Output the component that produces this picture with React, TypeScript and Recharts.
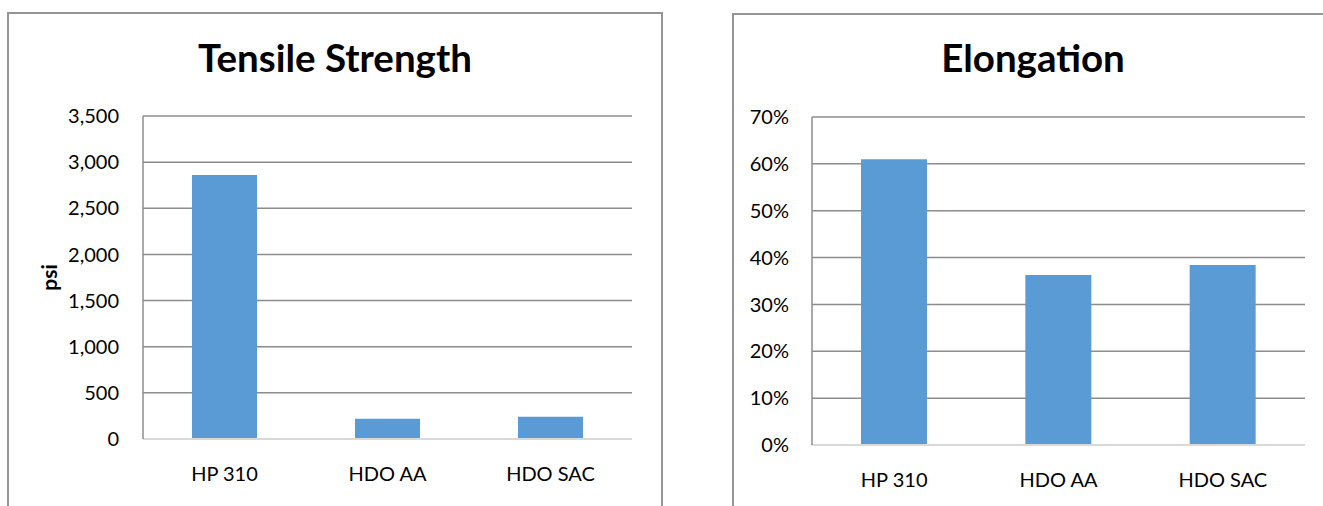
import React from "react";
import {
  BarChart,
  Bar,
  XAxis,
  YAxis,
  CartesianGrid,
  Label,
} from "recharts";

const categories = ["HP 310", "HDO AA", "HDO SAC"];
const tensilePsi = [2860, 220, 240];
const elongation = [0.61, 0.363, 0.384];
const tensileTicks = [0, 500, 1000, 1500, 2000, 2500, 3000, 3500];
const elongationTicks = [0, 0.1, 0.2, 0.3, 0.4, 0.5, 0.6, 0.7];

const tensileData = categories.map((name, i) => ({ name, value: tensilePsi[i] }));
const elongationData = categories.map((name, i) => ({ name, value: elongation[i] }));

const FONT = "Lato, 'Open Sans', sans-serif";
const BAR = "#5b9bd5";
const GRID = "#8c8c8c";
const AXIS0 = "#d9d9d9";

const tickStyle = { fill: "#000", fontSize: 20, fontFamily: FONT };

const boxStyle = (left: number, top: number, width: number): React.CSSProperties => ({
  position: "absolute",
  left,
  top,
  width,
  height: 520,
  border: "2px solid #959595",
  boxSizing: "border-box",
});

const titleStyle = (left: number, width: number): React.CSSProperties => ({
  position: "absolute",
  left,
  top: 38,
  width,
  textAlign: "center",
  fontFamily: FONT,
  fontWeight: 700,
  fontSize: 38.5,
  lineHeight: "38px",
  color: "#000",
});

const PsiLabel = (props: any) => {
  const vb = props.viewBox || {};
  const x = 41;
  const y = vb.y + vb.height / 2;
  return (
    <text
      x={x}
      y={y}
      transform={`rotate(-90 ${x} ${y})`}
      textAnchor="middle"
      dominantBaseline="central"
      fontFamily={FONT}
      fontWeight={700}
      fontSize={21}
      fill="#000"
    >
      psi
    </text>
  );
};

export default function App() {
  return (
    <div
      style={{
        position: "absolute",
        left: 0,
        top: 0,
        width: 1323,
        height: 506,
        overflow: "hidden",
        background: "#fff",
      }}
    >
      <div style={boxStyle(7, 12, 656)} />
      <div style={titleStyle(7, 656)}>Tensile Strength</div>
      <div style={{ position: "absolute", left: 7, top: 12 }}>
        <BarChart
          width={656}
          height={494}
          data={tensileData}
          margin={{ top: 104, right: 31, left: 0, bottom: 27 }}
          barSize={65}
        >
          <CartesianGrid horizontal vertical={false} stroke={GRID} strokeWidth={1.5} />
          <XAxis
            dataKey="name"
            height={40}
            axisLine={{ stroke: AXIS0, strokeWidth: 2 }}
            tickLine={false}
            tickMargin={22}
            tick={tickStyle}
          />
          <YAxis
            width={136}
            domain={[0, 3500]}
            ticks={tensileTicks}
            interval={0}
            axisLine={{ stroke: GRID, strokeWidth: 1.5 }}
            tickLine={false}
            tickMargin={18}
            tick={tickStyle}
            tickFormatter={(v: number) => v.toLocaleString("en-US")}
          >
            <Label content={PsiLabel} />
          </YAxis>
          <Bar dataKey="value" fill={BAR} isAnimationActive={false} />
        </BarChart>
      </div>

      <div style={boxStyle(732, 13, 602)} />
      <div style={titleStyle(732, 602)}>Elongation</div>
      <div style={{ position: "absolute", left: 732, top: 13 }}>
        <BarChart
          width={602}
          height={493}
          data={elongationData}
          margin={{ top: 104, right: 29, left: 0, bottom: 21 }}
          barSize={66}
        >
          <CartesianGrid horizontal vertical={false} stroke={GRID} strokeWidth={1.5} />
          <XAxis
            dataKey="name"
            height={40}
            axisLine={{ stroke: AXIS0, strokeWidth: 2 }}
            tickLine={false}
            tickMargin={22}
            tick={tickStyle}
          />
          <YAxis
            width={80}
            domain={[0, 0.7]}
            ticks={elongationTicks}
            interval={0}
            axisLine={{ stroke: GRID, strokeWidth: 1.5 }}
            tickLine={false}
            tickMargin={17}
            tick={tickStyle}
            tickFormatter={(v: number) => `${Math.round(v * 100)}%`}
          />
          <Bar dataKey="value" fill={BAR} isAnimationActive={false} />
        </BarChart>
      </div>
    </div>
  );
}
